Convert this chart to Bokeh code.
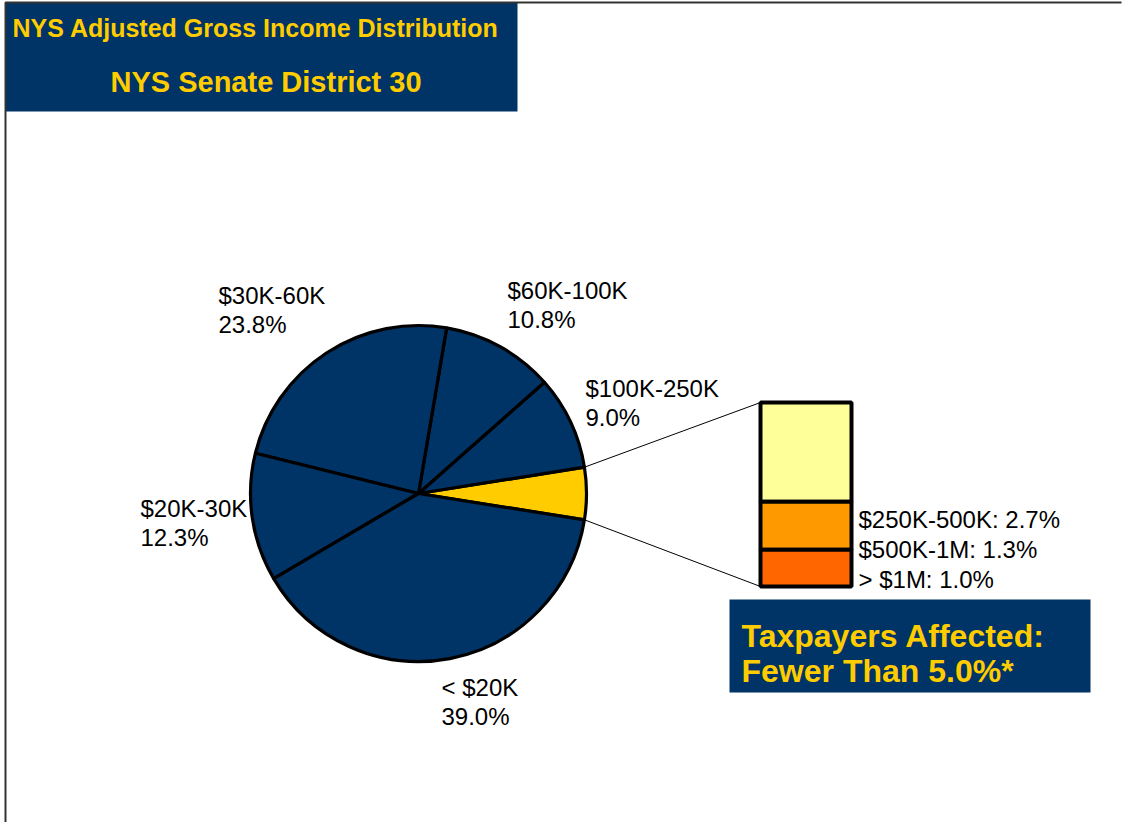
import math
from bokeh.plotting import figure
from bokeh.models import Range1d
from bokeh.core.properties import value
from bokeh.embed import file_html
from bokeh.resources import INLINE

# ---- data ----
title_line1 = "NYS Adjusted Gross Income Distribution"
title_line2 = "NYS Senate District 30"
pie_labels = ["< $20K", "$20K-30K", "$30K-60K", "$60K-100K", "$100K-250K"]
pie_values = [39.0, 12.3, 23.8, 10.8, 9.0]
bar_labels = ["$250K-500K", "$500K-1M", "> $1M"]
bar_values = [2.7, 1.3, 1.0]
note_lines = ["Taxpayers Affected:", "Fewer Than 5.0%*"]

# ---- styles / layout ----
NAVY = "#003366"
GOLD = "#FFCC00"
bar_colors = ["#FFFF99", "#FF9900", "#FF6600"]
FONT = value("Liberation Sans")
H_REF = 825
W_FIG, H_FIG = 1122, 822
BASE_K = 0.37  # baseline correction factor (fraction of font size)


def Y(y):
    return H_REF - y


def TY(y, size):
    # data y for a text baseline at reference pixel row y
    return Y(y - BASE_K * size)


p = figure(width=W_FIG, height=H_FIG, x_range=Range1d(0, W_FIG), y_range=Range1d(H_REF - H_FIG, H_REF),
           output_backend="svg", toolbar_location=None,
           x_axis_type=None, y_axis_type=None, min_border=0)
p.outline_line_color = None
p.background_fill_color = "white"
p.border_fill_color = "white"

# ---- pie ----
cx, cy, R = 418, 493, 168
other = sum(bar_values)
total = sum(pie_values) + other
half = math.pi * other / total
p.wedge(x=cx, y=Y(cy), radius=R, start_angle=-half, end_angle=half,
        fill_color=GOLD, line_color="black", line_width=3.2)
a = half
for i in [4, 3, 2, 1, 0]:
    span = 2 * math.pi * pie_values[i] / total
    p.wedge(x=cx, y=Y(cy), radius=R, start_angle=a, end_angle=a + span,
            fill_color=NAVY, line_color="black", line_width=3.2)
    a += span

# pie labels
LS = 24
label_pos = [(441, 696), (140, 517), (218, 304), (507, 299), (585, 397)]
p.text(x=[q[0] for q in label_pos], y=[TY(q[1], LS) for q in label_pos], text=pie_labels,
       text_font=FONT, text_font_size=f"{LS}px", text_color="black",
       text_baseline="alphabetic", text_align="left")
p.text(x=[q[0] for q in label_pos], y=[TY(q[1] + 29, LS) for q in label_pos],
       text=[f"{v:.1f}%" for v in pie_values],
       text_font=FONT, text_font_size=f"{LS}px", text_color="black",
       text_baseline="alphabetic", text_align="left")

# ---- stacked bar ----
bar_left, bar_right, bar_bottom_ref = 760, 851, 586
px_per_pct = 36.8
tops, bottoms = [], []
acc = 0.0
for v in reversed(bar_values):
    bottoms.insert(0, Y(bar_bottom_ref) + acc * px_per_pct)
    acc += v
    tops.insert(0, Y(bar_bottom_ref) + acc * px_per_pct)

px1, py1 = cx + R * math.cos(half), Y(cy) + R * math.sin(half)
px2, py2 = cx + R * math.cos(-half), Y(cy) + R * math.sin(-half)
p.segment(x0=[px1, px2], y0=[py1, py2], x1=[bar_left, bar_left],
          y1=[max(tops), min(bottoms)], line_color="black", line_width=1)

p.quad(left=bar_left, right=bar_right, bottom=bottoms, top=tops,
       fill_color=bar_colors, line_color="black", line_width=4)

BS = 24
bar_label_y = [528, 558, 588]
p.text(x=[858] * 3, y=[TY(v, BS) for v in bar_label_y],
       text=[f"{n}: {v:.1f}%" for n, v in zip(bar_labels, bar_values)],
       text_font=FONT, text_font_size=f"{BS}px", text_color="black",
       text_baseline="alphabetic", text_align="left")

# ---- title box ----
p.quad(left=5, right=517, top=Y(2), bottom=Y(111), fill_color=NAVY, line_color=None)
p.text(x=[12], y=[TY(37, 25)], text=[title_line1], text_font=FONT, text_font_size="25px",
       text_font_style="bold", text_color=GOLD, text_baseline="alphabetic", text_align="left")
p.text(x=[110], y=[TY(92, 29)], text=[title_line2], text_font=FONT, text_font_size="29px",
       text_font_style="bold", text_color=GOLD, text_baseline="alphabetic", text_align="left")

# ---- note box ----
NS = 32
p.quad(left=729, right=1090, top=Y(599), bottom=Y(692), fill_color=NAVY, line_color=None)
p.text(x=[741, 741], y=[TY(647, NS), TY(682, NS)], text=note_lines, text_font=FONT,
       text_font_size=f"{NS}px", text_font_style="bold", text_color=GOLD,
       text_baseline="alphabetic", text_align="left")

# ---- frame lines ----
p.line(x=[5, 5, 1121], y=[Y(825), Y(2), Y(2)], line_color="#333333", line_width=2)

open("out.html", "w").write(file_html(p, INLINE))
